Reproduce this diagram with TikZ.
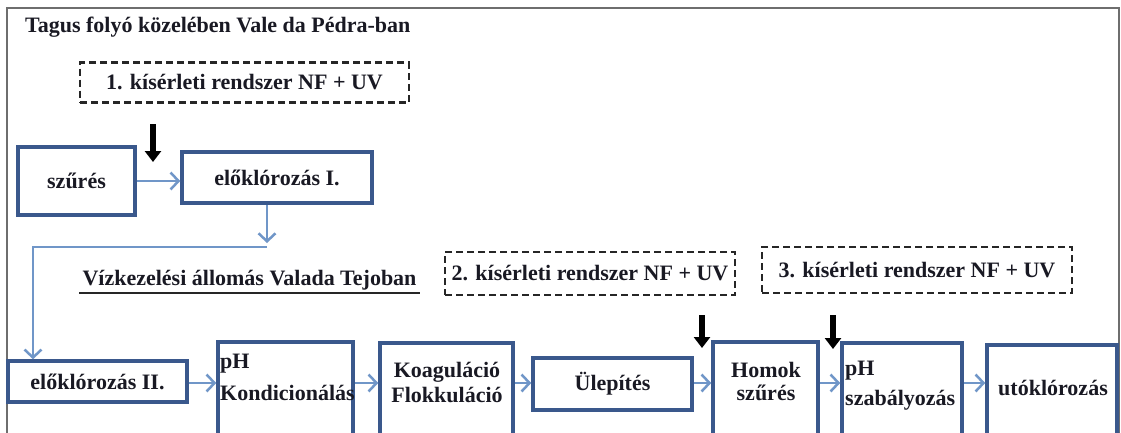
\documentclass[tikz,border=0pt]{standalone}
\usepackage{fontspec}
\newfontfamily\libser{Liberation Serif}
\newcommand\ft{\libser\bfseries\fontsize{22}{26}\selectfont}
\usetikzlibrary{arrows.meta}
\definecolor{boxblue}{RGB}{58,88,140}
\definecolor{connblue}{RGB}{112,150,200}
\definecolor{txt}{RGB}{25,25,35}
\definecolor{framegray}{RGB}{110,110,110}
\tikzset{
  box/.style={draw=boxblue, line width=3.5pt, rectangle, inner sep=0pt, text=txt},
  trial/.style={draw=black!85, line width=2.4pt, dash pattern=on 7pt off 4pt, rectangle, inner sep=0pt, text=txt},
  conn/.style={draw=connblue, line width=2.5pt, -{Straight Barb[length=8pt,width=17pt,line width=2.5pt]}},
  feed/.style={draw=black, line width=6pt, -{Triangle[length=11pt,width=16pt]}},
  lbl/.style={inner sep=0pt, text=txt}
}
\begin{document}
\begin{tikzpicture}[x=1pt,y=-1pt]
\useasboundingbox (0,0) rectangle (1121,432);
\clip (0,0) rectangle (1121,432);
\fill[white] (0,0) rectangle (1121,432);
% outer frame
\draw[framegray, line width=2.5pt] (7,460) -- (7,8) -- (1119,8) -- (1119,460);

% title
\node[lbl, anchor=base west] (title) at (25,32) {\ft Tagus folyó közelében Vale da Pédra-ban};

% trial systems
\node[trial, minimum width=329pt, minimum height=40pt] (trial1) at (244.5,82.5) {\ft 1. kísérleti rendszer NF + UV};
\node[trial, minimum width=290pt, minimum height=43pt] (trial2) at (590,273.5) {\ft 2. kísérleti rendszer NF + UV};
\node[trial, minimum width=310pt, minimum height=46pt] (trial3) at (917,270) {\ft 3. kísérleti rendszer NF + UV};

% upper boxes
\node[box, minimum width=117pt, minimum height=68pt] (szures) at (76.5,181) {\ft szűrés};
\node[box, minimum width=190pt, minimum height=51pt] (elok1) at (277,177.5) {\ft előklórozás I.};

% plant label
\node[lbl, anchor=base, inner sep=3pt] (plant) at (249.5,285) {\ft Vízkezelési állomás Valada Tejoban};
\draw[black!85, line width=2pt] (plant.south west) -- (plant.south east);

% lower boxes
\node[box, minimum width=179pt, minimum height=41pt] (elok2) at (97.5,381.5) {\ft előklórozás II.};
\node[box, minimum width=135pt, minimum height=98pt] (phk) at (285.5,391) {};
\node[box, minimum width=133pt, minimum height=98pt] (koag) at (446.5,392) {};
\node[box, minimum width=159pt, minimum height=52pt] (ulep) at (612.5,384) {\ft Ülepítés};
\node[box, minimum width=105pt, minimum height=98pt] (homok) at (765.5,391) {};
\node[box, minimum width=120pt, minimum height=98pt] (phs) at (902,392) {};
\node[box, minimum width=130pt, minimum height=98pt] (uto) at (1052,394) {};

% box texts
\node[lbl, anchor=base west] (phkA) at (220,368) {\ft pH};
\node[lbl, anchor=base west] (phkB) at (220,400) {\ft Kondicionálás};
\node[lbl, anchor=base] (koagA) at (447,377) {\ft Koaguláció};
\node[lbl, anchor=base] (koagB) at (447,402) {\ft Flokkuláció};
\node[lbl, anchor=base] (homokA) at (766,377) {\ft Homok};
\node[lbl, anchor=base] (homokB) at (766,400) {\ft szűrés};
\node[lbl, anchor=base west] (phsA) at (845,375) {\ft pH};
\node[lbl, anchor=base west] (phsB) at (845,405) {\ft szabályozás};
\node[lbl, anchor=base] (utoA) at (1053,395) {\ft utóklórozás};

% connectors
\coordinate (row) at (0,383);
\coordinate (downtip) at (267,243);
\coordinate (turnA) at (267,247);
\coordinate (turnB) at (33,247);

\draw[conn] (szures.east) -- (szures.east -| elok1.west);
\draw[conn] (elok1.south -| downtip) -- (downtip);
\draw[conn] (turnA) -- (turnB) -- (turnB |- elok2.north);
\draw[conn] (elok2.east |- row) -- (phk.west |- row);
\draw[conn] (phk.east |- row) -- (koag.west |- row);
\draw[conn] (koag.east |- row) -- (ulep.west |- row);
\draw[conn] (ulep.east |- row) -- (homok.west |- row);
\draw[conn] (homok.east |- row) -- (phs.west |- row);
\draw[conn] (phs.east |- row) -- (uto.west |- row);

% black feed arrows
\coordinate (f1s) at (153,124);
\coordinate (f1e) at (153,162);
\coordinate (f2s) at (702,315);
\coordinate (f2e) at (702,348);
\coordinate (f3s) at (833,315);
\coordinate (f3e) at (833,349);
\draw[feed] (f1s) -- (f1e);
\draw[feed] (f2s) -- (f2e);
\draw[feed] (f3s) -- (f3e);
\end{tikzpicture}
\end{document}
